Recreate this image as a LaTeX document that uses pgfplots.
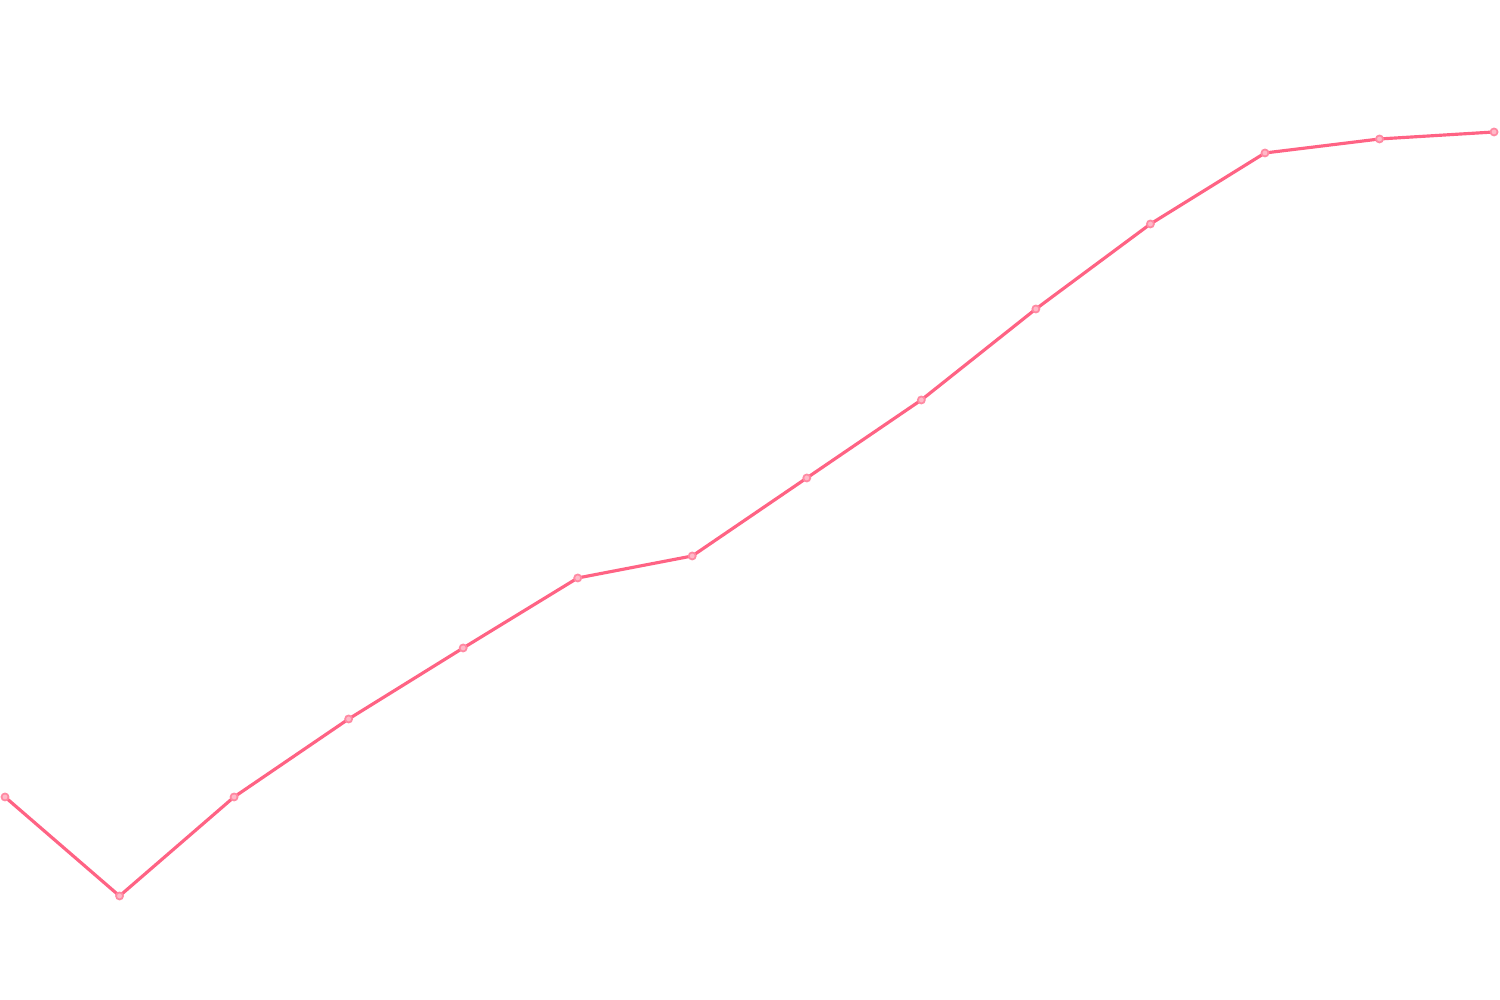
\documentclass[border=0pt]{standalone}
\usepackage{pgfplots}
\pgfplotsset{compat=1.18}
\definecolor{linepink}{RGB}{255,99,132}
\begin{document}
\begin{tikzpicture}
  \begin{axis}[
    width=15cm, height=10cm, scale only axis,
    hide axis,
    xmin=-0.0437, xmax=13.052,
    ymin=0, ymax=1000,
    clip=false]
    \addplot[color=linepink, line width=0.9pt,
      mark=*, mark size=1pt,
      mark options={fill=linepink!45, draw=linepink!75, line width=0.5pt}]
    coordinates {
      (0,203) (1,104) (2,203) (3,281) (4,352) (5,422) (6,444)
      (7,522) (8,600) (9,691) (10,776) (11,847) (12,861) (13,868)
    };
  \end{axis}
  \useasboundingbox (current axis.south west) rectangle (current axis.north east);
\end{tikzpicture}
\end{document}
